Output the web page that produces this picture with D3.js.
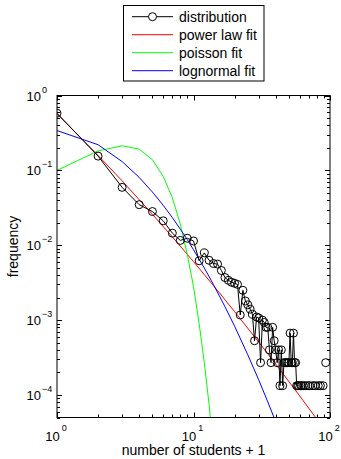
<!DOCTYPE html>
<meta charset="utf-8">
<script src="https://d3js.org/d3.v7.min.js"></script>
<style>
  body { margin: 0; background: #fff; }
  text { font-family: "Liberation Sans", Arial, sans-serif; fill: #000; }
</style>
<div id="chart"></div>
<script>

// measured distribution (0 = no observation, not drawn on log axes)
var distX = d3.range(1, 94);
var distY = [
  0.58, 0.155, 0.0593, 0.0348, 0.0282, 0.0212, 0.0145, 0.0116, 0.0124, 0.0114,
  0.0062, 0.0079, 0.0063, 0.0057, 0.0056, 0.0046, 0.0037, 0.0034, 0.0032, 0.0031,
  0.0030, 0.00117, 0.0025, 0.0018, 0.0016, 0.0014, 0.0012, 0.00053, 0.0011, 0.00107,
  0.00027, 0.0010, 0.00093, 0.0008, 0.0008, 0.0004, 0.00027, 0.0008, 0.00053, 0.0004,
  0.00027, 0.0004, 0.000133, 0.0004, 0.000133, 0.00027, 0.00027, 0.00027, 0.00027, 0.00027,
  0.00067, 0.00027, 0.00027, 0.00067, 0.00027, 0.00027, 0.000133, 0.000133, 0.000133, 0,
  0.000133, 0.000133, 0, 0.000133, 0, 0.000133, 0, 0, 0.000133, 0,
  0.000133, 0, 0, 0, 0.000133, 0, 0, 0.000133, 0, 0,
  0, 0.000133, 0, 0, 0.000133, 0, 0, 0, 0.000133, 0,
  0, 0, 0.00027
];

// fitted curves
var powerX = [1, 2, 3, 5, 7, 10, 15, 20, 30, 40, 60, 80, 100];
var powerY = [0.569, 0.158, 0.0724, 0.0259, 0.0129, 0.00604, 0.00248, 0.0013, 0.00051, 0.000259, 0.000097, 0.0000477, 0.000027];

var poissonX = [1, 2, 3, 4, 5, 6, 7, 8, 9, 10, 11, 12, 13, 14];
var poissonY = [0.10, 0.182, 0.213, 0.192, 0.139, 0.083, 0.043, 0.0192, 0.0076, 0.0028, 0.0009, 0.00027, 0.000075, 0.000019];

var lognX = [1, 2, 3, 4, 5, 6, 7, 8, 9, 10, 12, 14, 17, 20, 25, 30, 35, 40, 45];
var lognY = [0.34, 0.22, 0.131, 0.0805, 0.0514, 0.0341, 0.0234, 0.0164, 0.0119, 0.0087, 0.00497, 0.00299, 0.00151, 0.00083, 0.000343, 0.00016, 0.000081, 0.000044, 0.000025];

var legendLabels = ["distribution", "power law fit", "poisson fit", "lognormal fit"];
var legendColors = ["#000000", "#ff0000", "#00ff00", "#0000ff"];

var width = 341, height = 459;
var pLeft = 57, pRight = 330, pTop = 95.5, pBottom = 417.5;

var svg = d3.select("#chart").append("svg")
  .attr("width", width)
  .attr("height", height);

var x = d3.scaleLog().domain([1, 100]).range([pLeft, pRight]);
var y = d3.scaleLog().domain([5e-5, 1]).range([pBottom, pTop]);

svg.append("clipPath").attr("id", "plotclip")
  .append("rect")
  .attr("x", pLeft).attr("y", pTop)
  .attr("width", pRight - pLeft).attr("height", pBottom - pTop);

var plot = svg.append("g").attr("clip-path", "url(#plotclip)");

var line = d3.line()
  .defined(function (d) { return d[1] > 0; })
  .x(function (d) { return x(d[0]); })
  .y(function (d) { return y(d[1]); });

function pairs(xs, ys) { return xs.map(function (v, i) { return [v, ys[i]]; }); }

var dist = pairs(distX, distY);

plot.append("path").datum(pairs(powerX, powerY))
  .attr("d", line).attr("fill", "none").attr("stroke", "#ff0000").attr("stroke-width", 1);
plot.append("path").datum(pairs(poissonX, poissonY))
  .attr("d", line).attr("fill", "none").attr("stroke", "#00ff00").attr("stroke-width", 1);
plot.append("path").datum(pairs(lognX, lognY))
  .attr("d", line).attr("fill", "none").attr("stroke", "#0000ff").attr("stroke-width", 1);

plot.append("path").datum(dist)
  .attr("d", line).attr("fill", "none").attr("stroke", "#000").attr("stroke-width", 1);

plot.selectAll("circle.pt")
  .data(dist.filter(function (d) { return d[1] > 0; }))
  .enter().append("circle")
  .attr("class", "pt")
  .attr("cx", function (d) { return x(d[0]); })
  .attr("cy", function (d) { return y(d[1]); })
  .attr("r", 4)
  .attr("fill", "none")
  .attr("stroke", "#000")
  .attr("stroke-width", 1);

// ticks, MATLAB style: inside, on all four sides
var axes = svg.append("g").attr("stroke", "#000").attr("stroke-width", 1);

var xTicks = [];
[1, 10].forEach(function (d) { for (var k = 1; k < 10; k++) xTicks.push(d * k); });
xTicks.push(100);
xTicks.forEach(function (t) {
  var major = [1, 10, 100].indexOf(t) >= 0;
  var len = major ? 5 : 3;
  var px = Math.round(x(t)) + 0.5;
  axes.append("line").attr("x1", px).attr("x2", px).attr("y1", pBottom).attr("y2", pBottom - len);
  axes.append("line").attr("x1", px).attr("x2", px).attr("y1", pTop).attr("y2", pTop + len);
});

var yTicks = [5e-5, 6e-5, 7e-5, 8e-5, 9e-5];
[1e-4, 1e-3, 1e-2, 1e-1].forEach(function (d) { for (var k = 1; k < 10; k++) yTicks.push(d * k); });
yTicks.push(1);
yTicks.forEach(function (t) {
  var e = Math.log10(t);
  var major = Math.abs(e - Math.round(e)) < 1e-9;
  var len = major ? 5 : 3;
  var py = Math.round(y(t)) + 0.5;
  axes.append("line").attr("y1", py).attr("y2", py).attr("x1", pLeft).attr("x2", pLeft + len);
  axes.append("line").attr("y1", py).attr("y2", py).attr("x1", pRight).attr("x2", pRight - len);
});

svg.append("rect")
  .attr("x", pLeft).attr("y", pTop)
  .attr("width", pRight - pLeft).attr("height", pBottom - pTop)
  .attr("fill", "none").attr("stroke", "#000").attr("stroke-width", 1);

// tick labels 10^n
[0, 1, 2].forEach(function (e) {
  var lab = svg.append("text")
    .attr("x", x(Math.pow(10, e)) - 1).attr("y", 440.5)
    .attr("text-anchor", "middle").attr("font-size", 13);
  lab.append("tspan").text("10");
  lab.append("tspan").attr("dx", 2).attr("dy", -9.5).attr("font-size", 9).text(String(e));
});

[0, -1, -2, -3, -4].forEach(function (e) {
  var py = y(Math.pow(10, e));
  svg.append("text").attr("x", 41).attr("y", py + 5)
    .attr("text-anchor", "end").attr("font-size", 13).text("10");
  svg.append("text").attr("x", 42).attr("y", py - 3)
    .attr("font-size", 9).text(e === 0 ? "0" : "\u2212" + (-e));
});

svg.append("text")
  .attr("x", (pLeft + pRight) / 2).attr("y", 455)
  .attr("text-anchor", "middle").attr("font-size", 14)
  .text("number of students + 1");

svg.append("text")
  .attr("transform", "translate(18," + ((pTop + pBottom) / 2 - 10) + ") rotate(-90)")
  .attr("text-anchor", "middle").attr("font-size", 14)
  .text("frequency");

// legend
var legend = svg.append("g");
legend.append("rect")
  .attr("x", 123.5).attr("y", 5.5).attr("width", 140.5).attr("height", 75.5)
  .attr("fill", "#fff").attr("stroke", "#000").attr("stroke-width", 1);

legendLabels.forEach(function (label, i) {
  var ly = 16.7 + i * 18;
  legend.append("line")
    .attr("x1", 132).attr("x2", 173).attr("y1", ly).attr("y2", ly)
    .attr("stroke", legendColors[i]).attr("stroke-width", 1);
  if (i === 0) {
    legend.append("circle").attr("cx", 152.5).attr("cy", ly).attr("r", 4)
      .attr("fill", "#fff").attr("stroke", "#000").attr("stroke-width", 1);
  }
  legend.append("text")
    .attr("x", 179).attr("y", ly + 5)
    .attr("font-size", 14)
    .text(label);
});

</script>
